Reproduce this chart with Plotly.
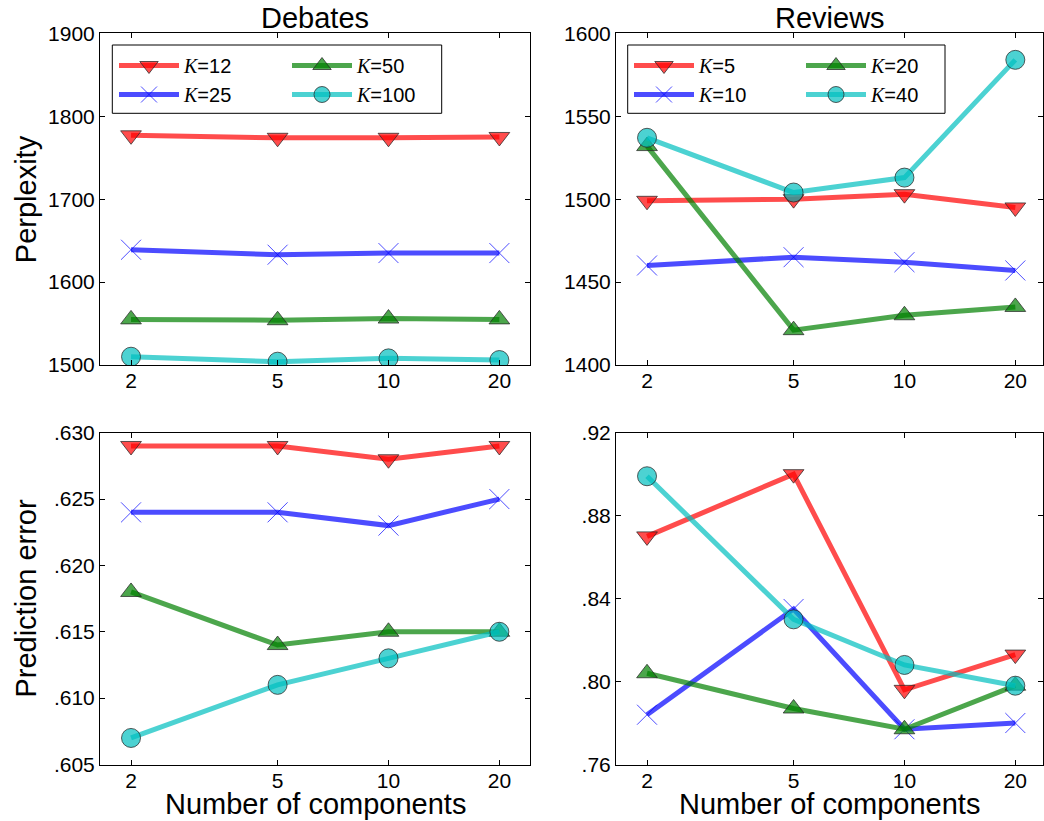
import plotly.graph_objects as go

# ---------------- data ----------------
components = [2, 5, 10, 20]
x_ticktext = ["2", "5", "10", "20"]

debates_k = ["12", "25", "50", "100"]
reviews_k = ["5", "10", "20", "40"]

deb_perp_k12 = [1777, 1774, 1774, 1775]
deb_perp_k25 = [1639, 1633, 1635, 1635]
deb_perp_k50 = [1555, 1554, 1556, 1555]
deb_perp_k100 = [1510, 1504, 1508, 1506]

rev_perp_k5 = [1499, 1500, 1503, 1495]
rev_perp_k10 = [1460, 1465, 1462, 1457]
rev_perp_k20 = [1532, 1421, 1430, 1435]
rev_perp_k40 = [1537, 1504, 1513, 1584]

deb_err_k12 = [0.629, 0.629, 0.628, 0.629]
deb_err_k25 = [0.624, 0.624, 0.623, 0.625]
deb_err_k50 = [0.618, 0.614, 0.615, 0.615]
deb_err_k100 = [0.607, 0.611, 0.613, 0.615]

rev_err_k5 = [0.870, 0.900, 0.796, 0.813]
rev_err_k10 = [0.784, 0.835, 0.777, 0.780]
rev_err_k20 = [0.804, 0.787, 0.777, 0.798]
rev_err_k40 = [0.899, 0.830, 0.808, 0.798]

deb_perp_ticks = [1500, 1600, 1700, 1800, 1900]
rev_perp_ticks = [1400, 1450, 1500, 1550, 1600]
deb_err_ticks = [0.605, 0.610, 0.615, 0.620, 0.625, 0.630]
deb_err_ticktext = [".605", ".610", ".615", ".620", ".625", ".630"]
rev_err_ticks = [0.76, 0.80, 0.84, 0.88, 0.92]
rev_err_ticktext = [".76", ".80", ".84", ".88", ".92"]

# ---------------- styling ----------------
W, H = 1044, 821
FONT = "Liberation Sans"
line_colors = ["rgba(255,0,0,0.7)", "rgba(0,0,255,0.7)", "rgba(0,128,0,0.7)", "rgba(0,191,191,0.7)"]
symbols = ["triangle-down", "x-thin", "triangle-up", "circle"]
sizes = [18, 20, 18, 19]
edge = "rgba(40,40,40,0.75)"


def px_x(p):
    return p / W


def px_y(p):
    return 1 - p / H


fig = go.Figure()

panels = [
    ("x", "y", [deb_perp_k12, deb_perp_k25, deb_perp_k50, deb_perp_k100], debates_k, ["legend", "legend", "legend2", "legend2"], True),
    ("x2", "y2", [rev_perp_k5, rev_perp_k10, rev_perp_k20, rev_perp_k40], reviews_k, ["legend3", "legend3", "legend4", "legend4"], True),
    ("x3", "y3", [deb_err_k12, deb_err_k25, deb_err_k50, deb_err_k100], debates_k, None, False),
    ("x4", "y4", [rev_err_k5, rev_err_k10, rev_err_k20, rev_err_k40], reviews_k, None, False),
]

K_HTML = "<span style=\"font-family:'Liberation Serif';font-style:italic\">K</span>="

for xa, ya, series, ks, legs, show in panels:
    for i, vals in enumerate(series):
        col = line_colors[i]
        if symbols[i] == "x-thin":
            mk = dict(symbol="x-thin", size=sizes[i], color=col, line=dict(color=col, width=1))
        else:
            mk = dict(symbol=symbols[i], size=sizes[i], color=col, line=dict(color=edge, width=1))
        tr = go.Scatter(
            x=components, y=vals, xaxis=xa, yaxis=ya,
            mode="lines+markers",
            line=dict(color=col, width=5),
            marker=mk,
            name=K_HTML + ks[i],
            showlegend=show,
        )
        if show:
            tr.legend = legs[i]
        fig.add_trace(tr)

LX = [px_x(100), px_x(530)]
RX = [px_x(616), px_x(1043)]
TY = [px_y(365), px_y(33.3)]
BY = [px_y(764.5), px_y(432.7)]

xr_left = [0.2168, 1.3842]
xr_right = [0.2168, 1.3762]

axis_common = dict(
    showline=True, linecolor="black", linewidth=1, mirror="allticks",
    ticks="inside", ticklen=5, tickcolor="black", tickwidth=1,
    showgrid=False, zeroline=False,
    tickfont=dict(family=FONT, size=21, color="black"),
)
xaxis_extra = dict(type="log", tickvals=components, ticktext=x_ticktext, ticklabelstandoff=-3)

fig.update_layout(
    width=W, height=H,
    margin=dict(l=0, r=0, t=0, b=0, autoexpand=False),
    paper_bgcolor="white", plot_bgcolor="white",
    font=dict(family=FONT, color="black"),
    xaxis=dict(domain=LX, anchor="y", range=xr_left, **xaxis_extra, **axis_common),
    yaxis=dict(domain=TY, anchor="x", range=[1500, 1900], tickvals=deb_perp_ticks, **axis_common),
    xaxis2=dict(domain=RX, anchor="y2", range=xr_right, **xaxis_extra, **axis_common),
    yaxis2=dict(domain=TY, anchor="x2", range=[1400, 1600], tickvals=rev_perp_ticks, **axis_common),
    xaxis3=dict(domain=LX, anchor="y3", range=xr_left, **xaxis_extra, **axis_common),
    yaxis3=dict(domain=BY, anchor="x3", range=[0.605, 0.630], tickvals=deb_err_ticks, ticktext=deb_err_ticktext, **axis_common),
    xaxis4=dict(domain=RX, anchor="y4", range=xr_right, **xaxis_extra, **axis_common),
    yaxis4=dict(domain=BY, anchor="x4", range=[0.76, 0.92], tickvals=rev_err_ticks, ticktext=rev_err_ticktext, **axis_common),
)

leg_common = dict(bgcolor="rgba(0,0,0,0)", borderwidth=0, font=dict(family=FONT, size=20, color="black"),
                  orientation="v", xanchor="left", yanchor="top", itemwidth=60, tracegroupgap=0)
fig.update_layout(
    legend=dict(x=px_x(114), y=px_y(46), **leg_common),
    legend2=dict(x=px_x(287), y=px_y(46), **leg_common),
    legend3=dict(x=px_x(629), y=px_y(46), **leg_common),
    legend4=dict(x=px_x(801), y=px_y(46), **leg_common),
)

for x0, x1 in [(112.3, 441.7), (627.7, 945)]:
    fig.add_shape(type="rect", xref="paper", yref="paper",
                  x0=px_x(x0), x1=px_x(x1), y0=px_y(113.3), y1=px_y(45),
                  line=dict(color="black", width=1), fillcolor="rgba(0,0,0,0)")

TITLE_SIZE = 29
ann = []
for xc, txt in [((100 + 530) / 2, "Debates"), ((616 + 1043) / 2, "Reviews")]:
    ann.append(dict(x=px_x(xc), y=px_y(18), xref="paper", yref="paper", text=txt, showarrow=False,
                    xanchor="center", yanchor="middle", font=dict(family=FONT, size=TITLE_SIZE)))
for xc in [(100 + 530) / 2, (616 + 1043) / 2]:
    ann.append(dict(x=px_x(xc), y=px_y(804), xref="paper", yref="paper", text="Number of components",
                    showarrow=False, xanchor="center", yanchor="middle", font=dict(family=FONT, size=TITLE_SIZE)))
for yc, txt in [((33.3 + 365) / 2, "Perplexity"), ((432.7 + 764.5) / 2, "Prediction error")]:
    ann.append(dict(x=px_x(26), y=px_y(yc), xref="paper", yref="paper", text=txt, textangle=-90,
                    showarrow=False, xanchor="center", yanchor="middle", font=dict(family=FONT, size=TITLE_SIZE)))
fig.update_layout(annotations=ann)

fig.write_html("out.html", config={"displayModeBar": False},
               post_script="document.body.style.margin='0';document.body.style.padding='0';")
